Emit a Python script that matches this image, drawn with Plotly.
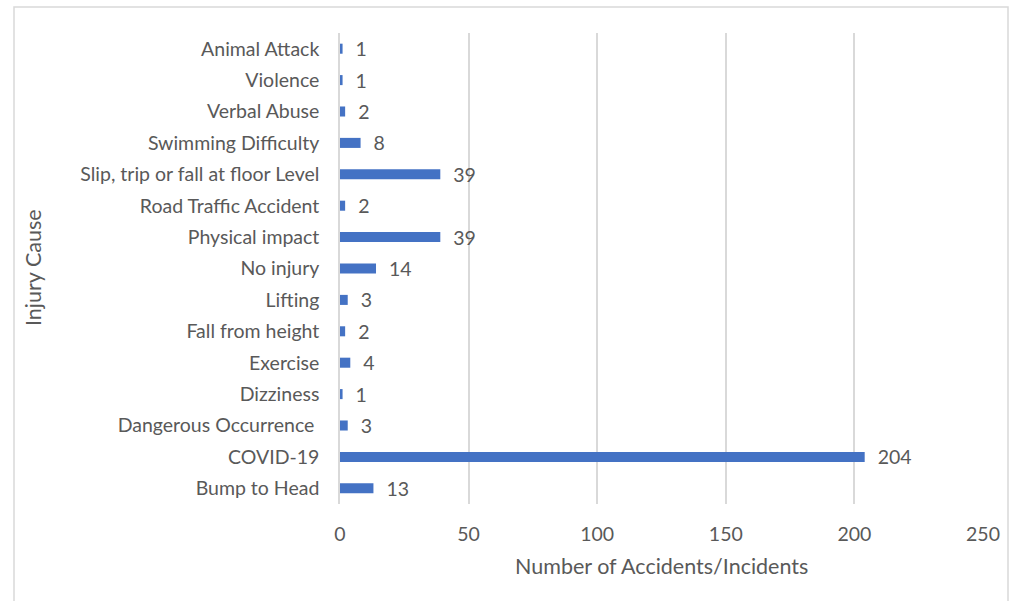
import plotly.graph_objects as go

# Injury causes, listed bottom to top as they appear on the axis
causes = [
    "Bump to Head",
    "COVID-19",
    "Dangerous Occurrence\u00a0",
    "Dizziness",
    "Exercise",
    "Fall from height",
    "Lifting",
    "No injury",
    "Physical impact",
    "Road Traffic Accident",
    "Slip, trip or fall at floor Level",
    "Swimming Difficulty",
    "Verbal Abuse",
    "Violence",
    "Animal Attack",
]
counts = [13, 204, 3, 1, 4, 2, 3, 14, 39, 2, 39, 8, 2, 1, 1]
x_ticks = [0, 50, 100, 150, 200, 250]

W, H = 1010, 601
L, R, T, B = 340, 27, 33, 97
pw, ph = W - L - R, H - T - B

def px(x):
    return (x - L) / pw

def py(y):
    return (H - B - y) / ph

text_color = "#595959"
font_family = "Lato, 'Open Sans', sans-serif"
label_size = 19.5

fig = go.Figure(
    go.Bar(
        x=counts,
        y=causes,
        orientation="h",
        marker=dict(color="#4472C4", line=dict(width=0)),
        text=["\u00a0\u00a0" + str(c) for c in counts],
        textposition="outside",
        constraintext="none",
        textfont=dict(color=text_color, size=label_size, family=font_family),
        cliponaxis=False,
    )
)

fig.update_layout(
    width=W,
    height=H,
    margin=dict(l=L, r=R, t=T, b=B, autoexpand=False),
    paper_bgcolor="white",
    plot_bgcolor="white",
    bargap=0.68,
    showlegend=False,
    font=dict(family=font_family, color=text_color, size=label_size),
    xaxis=dict(
        range=[0, 250],
        tickvals=x_ticks,
        showgrid=True,
        gridcolor="#D9D9D9",
        gridwidth=1.5,
        zeroline=False,
        showline=False,
        ticks="",
        ticklabelstandoff=16,
        tickfont=dict(size=label_size, color=text_color),
        fixedrange=True,
    ),
    yaxis=dict(
        type="category",
        categoryorder="array",
        categoryarray=causes,
        showgrid=False,
        zeroline=False,
        showline=True,
        linecolor="#D9D9D9",
        linewidth=1.5,
        ticks="",
        ticklabelstandoff=15,
        tickfont=dict(size=label_size, color=text_color),
        fixedrange=True,
    ),
    annotations=[
        dict(
            text="Injury Cause",
            xref="paper", yref="paper",
            x=px(33), y=py(268),
            showarrow=False, textangle=-90,
            font=dict(size=21.5, color=text_color),
            xanchor="center", yanchor="middle",
        ),
        dict(
            text="Number of Accidents/Incidents",
            xref="paper", yref="paper",
            x=px(661), y=py(566),
            showarrow=False,
            font=dict(size=21.5, color=text_color),
            xanchor="center", yanchor="middle",
        ),
    ],
    shapes=[
        dict(
            type="rect", xref="paper", yref="paper",
            x0=px(14), x1=px(1008), y0=py(603), y1=py(7),
            line=dict(color="#D9D9D9", width=1.5),
            fillcolor="rgba(0,0,0,0)", layer="below",
        )
    ],
)

fig.write_html("out.html")
